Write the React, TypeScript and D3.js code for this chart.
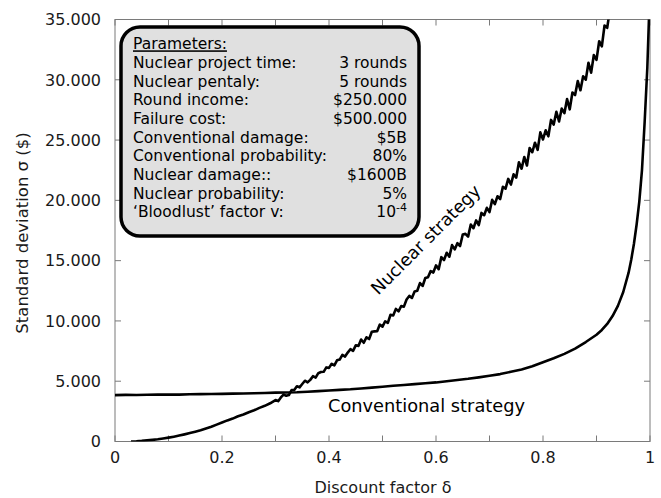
import React from "react";
import * as d3 from "d3";

// ---------- data ----------
const xTicksMajor = [0, 0.2, 0.4, 0.6, 0.8, 1];
const xTickLabels = ["0", "0.2", "0.4", "0.6", "0.8", "1"];
const xTicksMinor = [0.1, 0.3, 0.5, 0.7, 0.9];
const yTicks = [0, 5000, 10000, 15000, 20000, 25000, 30000, 35000];
const yTickLabels = ["0", "5.000", "10.000", "15.000", "20.000", "25.000", "30.000", "35.000"];

// Nuclear strategy [delta, sigma]
const nuclearDelta = [
  0.03, 0.04, 0.05, 0.06, 0.07, 0.08, 0.09, 0.10, 0.11, 0.12, 0.13, 0.14, 0.15, 0.16, 0.17, 0.18, 0.19,
  0.20, 0.21, 0.22, 0.23, 0.24, 0.25, 0.26, 0.27, 0.28, 0.29, 0.30,
  0.305, 0.31, 0.315, 0.32, 0.325, 0.33, 0.335, 0.34, 0.345, 0.35, 0.355, 0.36, 0.365, 0.37, 0.375,
  0.38, 0.385, 0.39, 0.395, 0.40, 0.405, 0.41, 0.415, 0.42, 0.425, 0.43, 0.435, 0.44, 0.445, 0.45,
  0.455, 0.46, 0.465, 0.47, 0.475, 0.48, 0.485, 0.49, 0.495, 0.50, 0.505, 0.51, 0.515, 0.52, 0.525,
  0.53, 0.535, 0.54, 0.545, 0.55, 0.555, 0.56, 0.565, 0.57, 0.575, 0.58, 0.585, 0.59, 0.595, 0.60,
  0.605, 0.61, 0.615, 0.62, 0.625, 0.63, 0.635, 0.64, 0.645, 0.65, 0.655, 0.66, 0.665, 0.67, 0.675,
  0.68, 0.685, 0.69, 0.695, 0.70, 0.705, 0.71, 0.715, 0.72, 0.725, 0.73, 0.735, 0.74, 0.745, 0.75,
  0.755, 0.76, 0.765, 0.77, 0.775, 0.78, 0.785, 0.79, 0.795, 0.80, 0.805, 0.81, 0.815, 0.82, 0.825,
  0.83, 0.835, 0.84, 0.845, 0.85, 0.855, 0.86, 0.865, 0.87, 0.875, 0.88, 0.885, 0.89, 0.895, 0.90,
  0.905, 0.91, 0.915, 0.92, 0.925,
];
const nuclearSigma = [
  0, 20, 50, 90, 135, 185, 250, 320, 400, 490, 590, 700, 810, 930, 1070, 1220, 1400,
  1570, 1750, 1900, 2090, 2240, 2430, 2590, 2790, 2960, 3170, 3440,
  3345, 3655, 3890, 3795, 3850, 4270, 4270, 4585, 4495, 4765, 5040, 4910, 5110, 5415, 5300,
  5665, 5760, 5780, 6145, 6105, 6445, 6310, 6730, 6795, 7180, 7045, 7375, 7655, 7520, 7975,
  7930, 8460, 8190, 8645, 8500, 9105, 9135, 9140, 9695, 9525, 9970, 9840, 10510, 10455, 11000,
  10795, 11240, 11185, 11780, 12075, 11910, 12445, 12505, 13140, 12900, 13560, 13620, 14130, 14015, 14610,
  14290, 15290, 15050, 15650, 15330, 16290, 15930, 16450, 16210, 17170, 17220, 16990, 18000, 17690, 18340,
  17950, 18960, 18770, 19380, 19030, 20040, 19690, 20340, 20110, 21120, 20970, 21780, 21310, 22160, 21890,
  23160, 22630, 23600, 22890, 24340, 23990, 24780, 24190, 25640, 25050, 25810, 25310, 26670, 26290, 27350,
  26550, 27610, 27230, 28410, 27550, 28950, 28730, 29890, 29130, 30290, 30010, 31410, 30590, 32050, 31650,
  33200, 32770, 34500, 34310, 35800,
];

// Conventional strategy
const convDelta = [
  0.0, 0.02, 0.04, 0.06, 0.08, 0.10, 0.12, 0.14, 0.16, 0.18, 0.20, 0.22, 0.24, 0.26, 0.28, 0.30,
  0.32, 0.34, 0.36, 0.38, 0.40, 0.42, 0.44, 0.46, 0.48, 0.50, 0.52, 0.54, 0.56, 0.58, 0.60,
  0.62, 0.64, 0.66, 0.68, 0.70, 0.72, 0.74, 0.76, 0.78, 0.80, 0.82, 0.84, 0.86, 0.88, 0.90,
  0.91, 0.92, 0.93, 0.94, 0.95, 0.96, 0.965, 0.97, 0.975, 0.98, 0.985, 0.99, 0.995, 0.998, 0.999,
];
const convSigma = [
  3850, 3870, 3860, 3880, 3890, 3900, 3890, 3920, 3930, 3940, 3950, 3970, 3980, 4000, 4020, 4050,
  4070, 4090, 4130, 4180, 4230, 4280, 4330, 4400, 4470, 4540, 4620, 4690, 4760, 4830, 4900,
  5000, 5100, 5200, 5320, 5450, 5590, 5780, 5980, 6240, 6580, 6900, 7270, 7700, 8250, 8850,
  9250, 9750, 10400, 11250, 12400, 14000, 15100, 16400, 18000, 19900, 22500, 26500, 31000, 35000, 37000,
];

const paramNames = [
  "Nuclear project time:",
  "Nuclear pentaly:",
  "Round income:",
  "Failure cost:",
  "Conventional damage:",
  "Conventional probability:",
  "Nuclear damage::",
  "Nuclear probability:",
  "\u2018Bloodlust\u2019 factor v:",
];
const paramValues = ["3 rounds", "5 rounds", "$250.000", "$500.000", "$5B", "80%", "$1600B", "5%", "10^-4"];

// ---------- layout ----------
const W = 661;
const H = 498;
const L = 115;
const R = 650;
const T = 19.5;
const B = 441.5;
const FONT = "'DejaVu Sans', Verdana, sans-serif";

export default function App() {
  const x = d3.scaleLinear().domain([0, 1]).range([L, R]);
  const y = d3.scaleLinear().domain([0, 35000]).range([B, T]);

  const line = d3
    .line<[number, number]>()
    .x((d) => x(d[0]))
    .y((d) => y(d[1]));

  const nuc: [number, number][] = nuclearDelta.map((d, i) => [d, nuclearSigma[i]]);
  const conv: [number, number][] = convDelta.map((d, i) => [d, convSigma[i]]);

  const tick = 6;
  const axisColor = "#7a7a7a";
  const textColor = "#1a1a1a";

  const boxX = 121;
  const boxY = 27;
  const boxW = 298;
  const boxH = 209;
  const row0 = 49.3;
  const rowH = 18.67;
  const fs = 15.5;

  return (
    <svg
      width={W}
      height={H}
      style={{ position: "absolute", left: 0, top: 0, background: "#fff" }}
      fontFamily={FONT}
    >
      <defs>
        <clipPath id="plotclip">
          <rect x={L} y={T} width={R - L} height={B - T} />
        </clipPath>
      </defs>

      {/* frame */}
      <rect x={L} y={T} width={R - L} height={B - T} fill="none" stroke={axisColor} strokeWidth={1} />

      {/* x ticks */}
      {[...xTicksMajor, ...xTicksMinor].map((t, i) => (
        <g key={"xt" + i}>
          <line x1={x(t)} x2={x(t)} y1={B} y2={B - tick} stroke={axisColor} />
          <line x1={x(t)} x2={x(t)} y1={T} y2={T + tick} stroke={axisColor} />
        </g>
      ))}
      {xTicksMajor.map((t, i) => (
        <text key={"xl" + i} x={x(t)} y={463} textAnchor="middle" fontSize={16} fill={textColor}>
          {xTickLabels[i]}
        </text>
      ))}

      {/* y ticks */}
      {yTicks.map((t, i) => (
        <g key={"yt" + i}>
          <line x1={L} x2={L + tick} y1={y(t)} y2={y(t)} stroke={axisColor} />
          <line x1={R} x2={R - tick} y1={y(t)} y2={y(t)} stroke={axisColor} />
          <text x={101} y={y(t) + 5.8} textAnchor="end" fontSize={16} fill={textColor}>
            {yTickLabels[i]}
          </text>
        </g>
      ))}

      {/* axis titles */}
      <text x={383} y={493} textAnchor="middle" fontSize={16} fill={textColor}>
        Discount factor δ
      </text>
      <text
        transform={`translate(28,233) rotate(-90)`}
        textAnchor="middle"
        fontSize={16.5}
        fill={textColor}
      >
        Standard deviation σ ($)
      </text>

      {/* curves */}
      <g clipPath="url(#plotclip)">
        <path d={line(conv) || ""} fill="none" stroke="#000" strokeWidth={2.6} strokeLinejoin="round" />
        <path d={line(nuc) || ""} fill="none" stroke="#000" strokeWidth={2.6} strokeLinejoin="round" />
      </g>

      {/* curve labels */}
      <text x={328} y={412} fontSize={17.8} fill="#000">
        Conventional strategy
      </text>
      <text transform="translate(430,244) rotate(-45)" textAnchor="middle" fontSize={17.6} fill="#000">
        Nuclear strategy
      </text>

      {/* parameter box */}
      <rect
        x={boxX}
        y={boxY}
        width={boxW}
        height={boxH}
        rx={19}
        ry={19}
        fill="#e0e0e0"
        stroke="#000"
        strokeWidth={3.5}
      />
      <text x={133} y={row0} fontSize={fs} fill="#000" textDecoration="underline">
        Parameters:
      </text>
      {paramNames.map((n, i) => (
        <text key={"pn" + i} x={133} y={row0 + rowH * (i + 1)} fontSize={fs} fill="#000">
          {n}
        </text>
      ))}
      {paramValues.map((v, i) => {
        const yy = row0 + rowH * (i + 1);
        if (v.includes("^")) {
          const [base, exp] = v.split("^");
          return (
            <text key={"pv" + i} x={407} y={yy} fontSize={fs} fill="#000" textAnchor="end">
              {base}
              <tspan dy={-6} fontSize={11}>
                {exp}
              </tspan>
            </text>
          );
        }
        return (
          <text key={"pv" + i} x={407} y={yy} fontSize={fs} fill="#000" textAnchor="end">
            {v}
          </text>
        );
      })}
    </svg>
  );
}
